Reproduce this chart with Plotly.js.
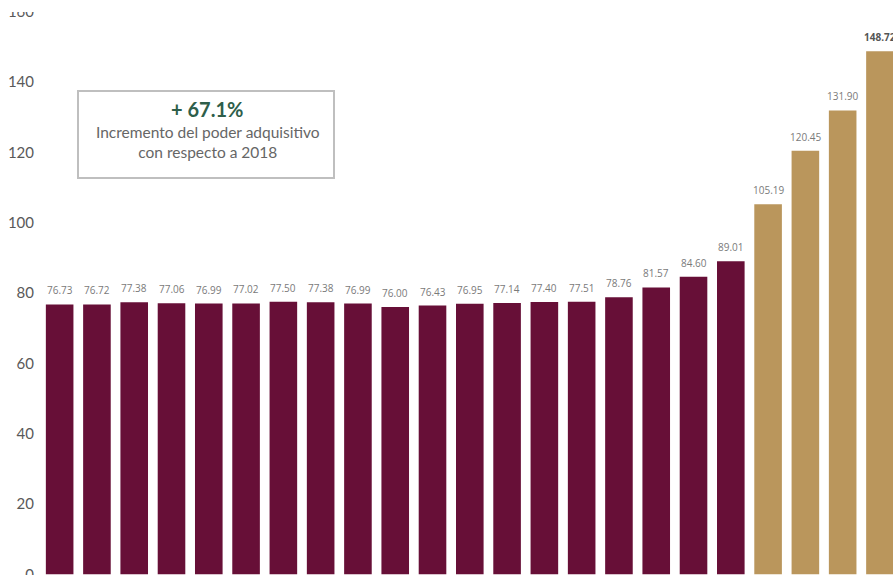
<!DOCTYPE html>
<html>
<head>
<meta charset="utf-8">
<script src="https://cdn.plot.ly/plotly-3.0.1.min.js"></script>
<style>html,body{margin:0;padding:0;background:#fff;}#chart{width:893px;height:575px;}</style>
</head>
<body>
<div id="chart"></div>
<script>
const years = ["2000","2001","2002","2003","2004","2005","2006","2007","2008","2009","2010","2011","2012","2013","2014","2015","2016","2017","2018","2019","2020","2021","2022"];
const values = [76.73,76.72,77.38,77.06,76.99,77.02,77.50,77.38,76.99,76.00,76.43,76.95,77.14,77.40,77.51,78.76,81.57,84.60,89.01,105.19,120.45,131.90,148.72];
const colorBefore = "#670f37";
const colorAfter = "#ba965c";
const splitIndex = 19;
const yTicks = [0,20,40,60,80,100,120,140,160];
const boxTitle = "+ 67.1%";
const boxLines = ["Incremento del poder adquisitivo","con respecto a 2018"];

const colors = values.map((v,i)=> i < splitIndex ? colorBefore : colorAfter);

const trace = {
  type: "bar",
  x: years,
  y: values,
  marker: {color: colors},
  hoverinfo: "x+y",
  cliponaxis: false
};

const annotations = values.map((v,i)=>({
  x: i, y: v, xref: "x", yref: "y",
  text: i === values.length-1 ? "<b>"+v.toFixed(2)+"</b>" : v.toFixed(2),
  showarrow: false, yanchor: "bottom", yshift: 5,
  font: {family: "Open Sans, sans-serif", size: 10, color: i === values.length-1 ? "#555555" : "#7a7a7a"}
}));

function px2x(px){ return (px - 41) / 852; }
function py2y(py){ return (575 - py) / 575; }

annotations.push({
  xref: "paper", yref: "paper", x: px2x(207), y: py2y(109),
  text: "<b>"+boxTitle+"</b>", showarrow: false, xanchor: "center", yanchor: "middle",
  font: {family: "Lato, sans-serif", size: 20, color: "#2e5e4a"}
});
annotations.push({
  xref: "paper", yref: "paper", x: px2x(208), y: py2y(142),
  text: boxLines.join("<br>"), showarrow: false, xanchor: "center", yanchor: "middle",
  font: {family: "Lato, sans-serif", size: 15.5, color: "#666666"}
});

const layout = {
  width: 893, height: 575,
  margin: {l: 41, r: 0, t: 0, b: 0, pad: 0},
  paper_bgcolor: "#ffffff", plot_bgcolor: "#ffffff",
  showlegend: false,
  bargap: 0.26,
  xaxis: {type: "category", range: [-0.5, 22.35], showticklabels: false, showgrid: false, zeroline: false, showline: false, ticks: ""},
  yaxis: {range: [-0.2, 163.3], tickvals: yTicks, ticktext: yTicks.map(String), showgrid: false, zeroline: false, showline: false, ticks: "",
          tickfont: {family: "Lato, sans-serif", size: 15, color: "#595959"}, ticklabelstandoff: 6, ticklabeloverflow: "allow"},
  shapes: [
    {type: "rect", xref: "paper", yref: "paper", x0: px2x(78), x1: px2x(334), y0: py2y(91), y1: py2y(178),
     line: {color: "#bfbfbf", width: 2}, fillcolor: "rgba(0,0,0,0)"},
    {type: "rect", xref: "paper", yref: "paper", layer: "above", x0: px2x(0), x1: px2x(40), y0: py2y(12), y1: py2y(0),
     line: {width: 0}, fillcolor: "#ffffff"}
  ],
  annotations: annotations
};

Plotly.newPlot("chart", [trace], layout, {displayModeBar: false, staticPlot: true});
</script>
</body>
</html>
